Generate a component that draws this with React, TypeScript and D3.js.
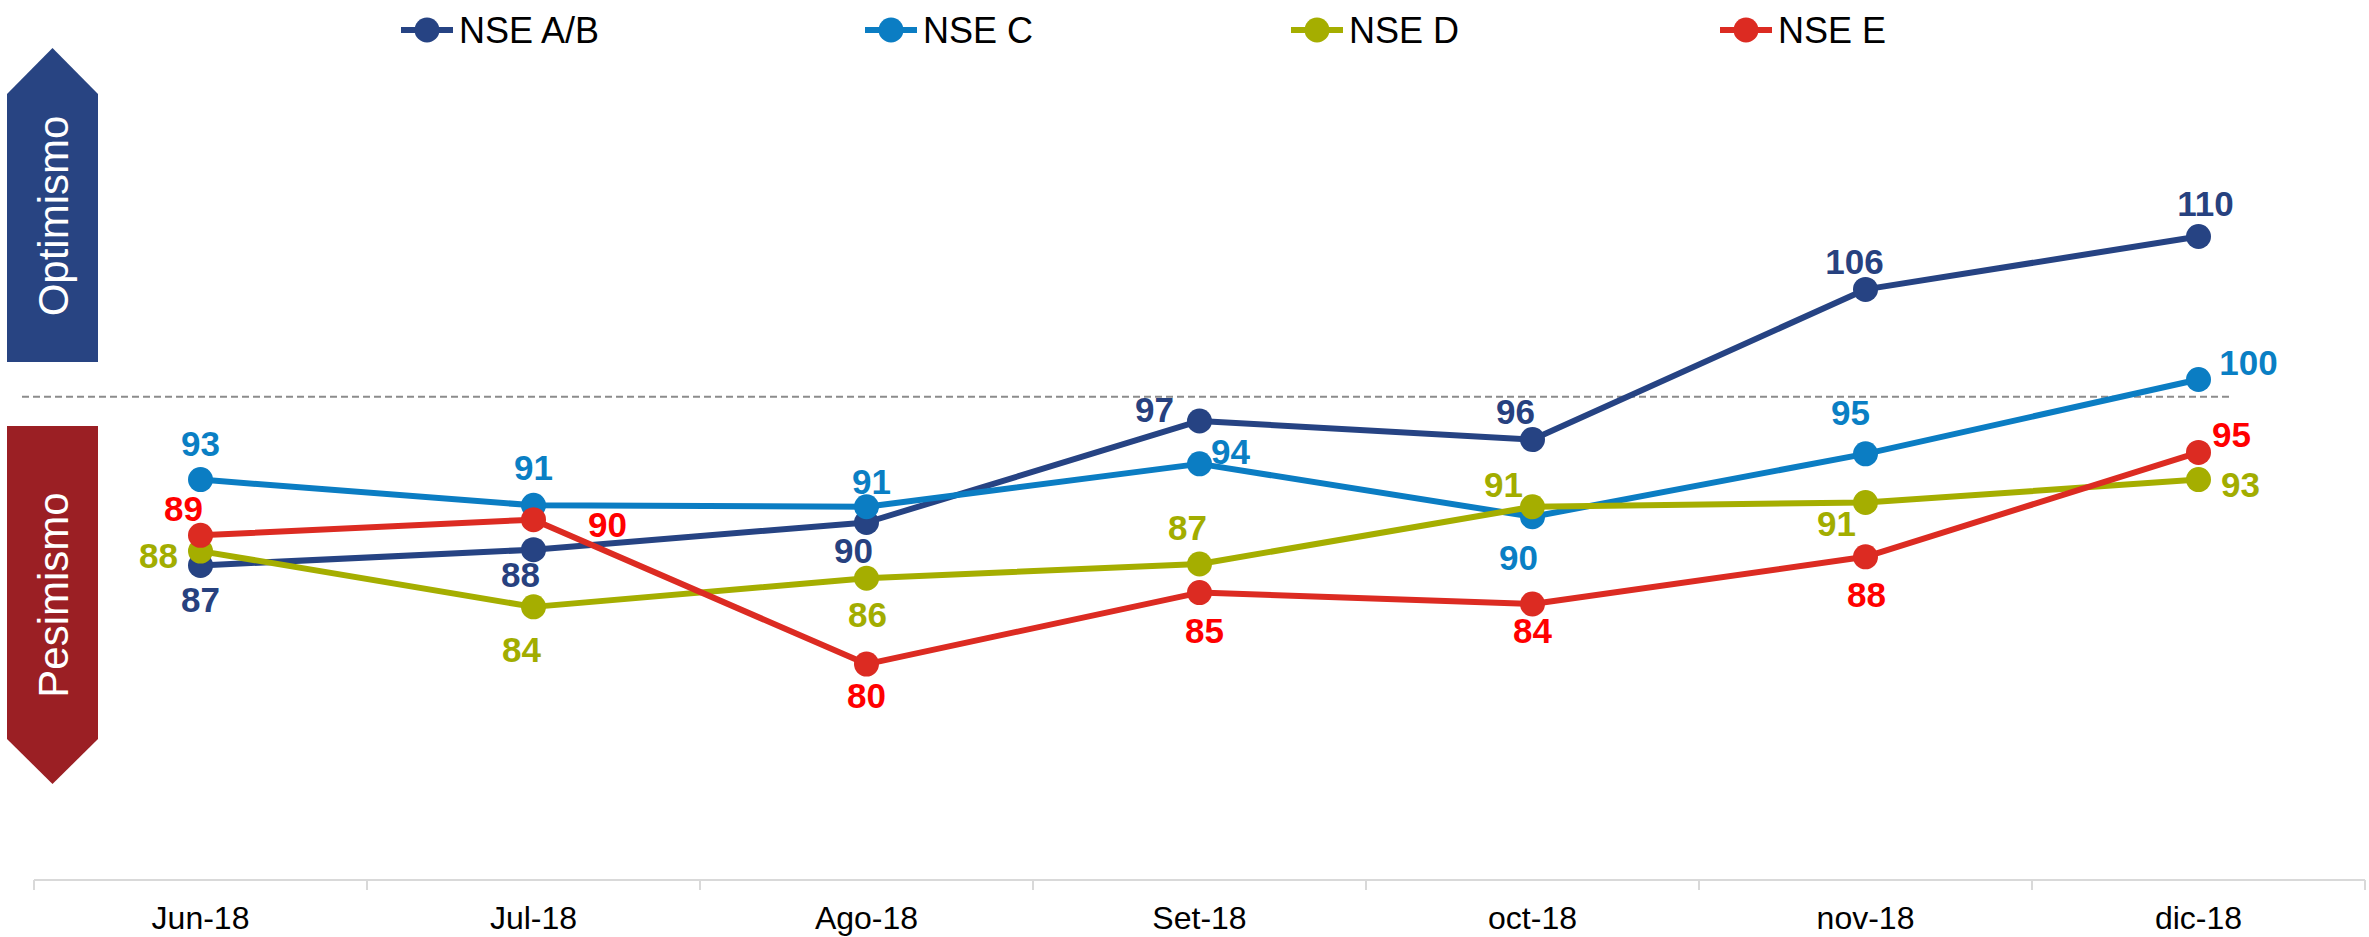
import { useEffect, useRef } from 'react'
import * as d3 from 'd3'

// Chart data
const CATEGORIES = ['Jun-18', 'Jul-18', 'Ago-18', 'Set-18', 'oct-18', 'nov-18', 'dic-18']
const SERIES_NAMES = ['NSE A/B', 'NSE C', 'NSE D', 'NSE E']
const NSE_AB = [87.0, 88.1, 90.0, 97.1, 95.8, 106.3, 110.0]
const NSE_C = [93.0, 91.2, 91.1, 94.1, 90.4, 94.8, 100.0]
const NSE_D = [88.0, 84.1, 86.1, 87.1, 91.1, 91.4, 93.0]
const NSE_E = [89.1, 90.2, 80.1, 85.1, 84.3, 87.6, 94.9]
const NEUTRAL_LEVEL = 98.8
const Y_DOMAIN = [65, 115]

// Styling / layout
const LINE_COLORS = ['#264383', '#0b7dc3', '#a5ae00', '#dc2b22']
const LABEL_COLORS = ['#27417f', '#0a7fc4', '#a2ad00', '#ff0000']
const LEGEND_X = [427, 891, 1317, 1746]
// per point label offsets [dx, dy] from marker centre (text centre / baseline)
const LABEL_OFFSETS: [number, number][][] = [
  [[0, 47], [-13, 37], [-13, 40], [-45, 1], [-17, -16], [-11, -15], [7, -21]],
  [[0, -24], [0, -25], [5, -13], [31, 0], [-14, 53], [-15, -29], [50, -5]],
  [[-42, 17], [-12, 55], [1, 49], [-12, -24], [-29, -10], [-29, 34], [42, 17]],
  [[-17, -14], [74, 17], [0, 44], [5, 50], [0, 39], [1, 50], [33, -5]],
]

const FONT = '"Liberation Sans", Arial, Helvetica, sans-serif'
const W = 2369
const H = 937

export default function App() {
  const svgRef = useRef<SVGSVGElement>(null)

  useEffect(() => {
    const svgEl = svgRef.current
    if (!svgEl) return
    const svg = d3.select(svgEl)
    svg.selectAll('*').remove()

    const series = [NSE_AB, NSE_C, NSE_D, NSE_E]

    const x = d3.scaleBand<string>().domain(CATEGORIES).range([34, 2365]).padding(0)
    const y = d3.scaleLinear().domain(Y_DOMAIN).range([880, 165])
    const cx = (c: string) => (x(c) ?? 0) + x.bandwidth() / 2

    svg.append('rect').attr('width', W).attr('height', H).attr('fill', '#fff')

    // Optimismo / Pesimismo arrows
    const arrows = svg.append('g')
    arrows.append('path')
      .attr('d', 'M7,94 L52.5,48 L98,94 L98,362 L7,362 Z')
      .attr('fill', '#284482')
    arrows.append('path')
      .attr('d', 'M7,426 L98,426 L98,739 L52.5,784 L7,739 Z')
      .attr('fill', '#9b1f24')
    ;[['Optimismo', 216], ['Pesimismo', 595]].forEach(([t, cy]) => {
      arrows.append('text')
        .attr('transform', `translate(53,${cy}) rotate(-90)`)
        .attr('text-anchor', 'middle')
        .attr('dominant-baseline', 'central')
        .attr('fill', '#fff')
        .attr('font-family', FONT)
        .attr('font-size', '42px')
        .text(t as string)
    })

    // Dashed neutral line
    svg.append('line')
      .attr('x1', 22).attr('x2', 2232)
      .attr('y1', y(NEUTRAL_LEVEL)).attr('y2', y(NEUTRAL_LEVEL))
      .attr('stroke', '#8c8c8c')
      .attr('stroke-width', 2)
      .attr('stroke-dasharray', '7 4')

    // X axis
    const ax = svg.append('g')
    const [r0, r1] = x.range()
    ax.append('line')
      .attr('x1', r0).attr('x2', r1)
      .attr('y1', y(Y_DOMAIN[0])).attr('y2', y(Y_DOMAIN[0]))
      .attr('stroke', '#d9d9d9').attr('stroke-width', 2)
    const bounds = CATEGORIES.map(c => x(c) ?? 0).concat([r1])
    bounds.forEach(b => {
      ax.append('line')
        .attr('x1', b).attr('x2', b)
        .attr('y1', y(Y_DOMAIN[0])).attr('y2', y(Y_DOMAIN[0]) + 10)
        .attr('stroke', '#d9d9d9').attr('stroke-width', 2)
    })
    CATEGORIES.forEach(c => {
      ax.append('text')
        .attr('x', cx(c))
        .attr('y', 929)
        .attr('text-anchor', 'middle')
        .attr('font-family', FONT)
        .attr('font-size', '32px')
        .attr('fill', '#000')
        .text(c)
    })

    // Lines + markers
    const line = d3.line<number>()
      .x((_, i) => cx(CATEGORIES[i]))
      .y(d => y(d))

    series.forEach((vals, si) => {
      const g = svg.append('g')
      g.append('path')
        .attr('d', line(vals) ?? '')
        .attr('fill', 'none')
        .attr('stroke', LINE_COLORS[si])
        .attr('stroke-width', 6)
        .attr('stroke-linejoin', 'round')
      g.selectAll('circle')
        .data(vals)
        .join('circle')
        .attr('cx', (_, i) => cx(CATEGORIES[i]))
        .attr('cy', d => y(d))
        .attr('r', 12.5)
        .attr('fill', LINE_COLORS[si])
    })

    // Data labels
    series.forEach((vals, si) => {
      svg.append('g')
        .selectAll('text')
        .data(vals)
        .join('text')
        .attr('x', (_, i) => cx(CATEGORIES[i]) + LABEL_OFFSETS[si][i][0])
        .attr('y', (d, i) => y(d) + LABEL_OFFSETS[si][i][1])
        .attr('text-anchor', 'middle')
        .attr('font-family', FONT)
        .attr('font-size', '35px')
        .attr('font-weight', 'bold')
        .attr('fill', LABEL_COLORS[si])
        .text(d => String(Math.round(d)))
    })

    // Legend
    const leg = svg.append('g')
    SERIES_NAMES.forEach((name, si) => {
      const lx = LEGEND_X[si]
      leg.append('line')
        .attr('x1', lx - 26).attr('x2', lx + 26)
        .attr('y1', 30).attr('y2', 30)
        .attr('stroke', LINE_COLORS[si]).attr('stroke-width', 6)
      leg.append('circle')
        .attr('cx', lx).attr('cy', 30).attr('r', 12.5)
        .attr('fill', LINE_COLORS[si])
      leg.append('text')
        .attr('x', lx + 32)
        .attr('y', 43)
        .attr('font-family', FONT)
        .attr('font-size', '36px')
        .attr('fill', '#000')
        .text(name)
    })
  }, [])

  return (
    <svg
      ref={svgRef}
      width={W}
      height={H}
      style={{ position: 'absolute', left: 0, top: 0, display: 'block' }}
    />
  )
}
